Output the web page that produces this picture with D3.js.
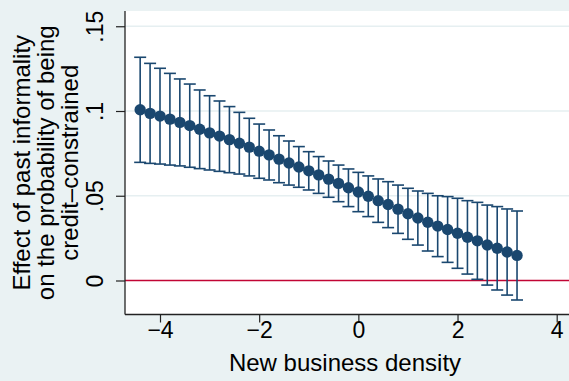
<!DOCTYPE html>
<html>
<head>
<meta charset="utf-8">
<script src="https://cdn.jsdelivr.net/npm/d3@7"></script>
<style>
  html, body { margin: 0; padding: 0; background: #eaf2f3; }
  svg { display: block; }
  text { font-family: "Liberation Sans", Arial, Helvetica, sans-serif; fill: #000; }
</style>
</head>
<body>
<svg id="chart" width="569" height="381"></svg>
<script>
// ---- data ----
const density = [-4.4,-4.2,-4.0,-3.8,-3.6,-3.4,-3.2,-3.0,-2.8,-2.6,-2.4,-2.2,-2.0,-1.8,-1.6,-1.4,-1.2,-1.0,-0.8,-0.6,
                 -0.4,-0.2,0.0,0.2,0.4,0.6,0.8,1.0,1.2,1.4,1.6,1.8,2.0,2.2,2.4,2.6,2.8,3.0,3.2];
const effect = [0.1007,0.0986,0.0970,0.0952,0.0933,0.0914,0.0892,0.0871,0.0852,0.0831,0.0810,0.0787,0.0763,0.0741,
                0.0716,0.0693,0.0670,0.0647,0.0623,0.0598,0.0573,0.0547,0.0522,0.0497,0.0471,0.0448,0.0421,0.0394,
                0.0369,0.0344,0.0321,0.0301,0.0279,0.0255,0.0234,0.0209,0.0190,0.0168,0.0148];
const upper = [0.1317,0.1281,0.1252,0.1222,0.1189,0.1159,0.1124,0.1090,0.1059,0.1026,0.0992,0.0957,0.0923,0.0888,
               0.0854,0.0823,0.0790,0.0760,0.0731,0.0705,0.0681,0.0658,0.0638,0.0617,0.0599,0.0583,0.0563,0.0544,
               0.0528,0.0514,0.0500,0.0495,0.0485,0.0471,0.0461,0.0445,0.0436,0.0422,0.0410];
const lower = [0.0697,0.0691,0.0687,0.0681,0.0676,0.0668,0.0660,0.0652,0.0644,0.0636,0.0628,0.0617,0.0603,0.0593,
               0.0577,0.0563,0.0550,0.0534,0.0514,0.0491,0.0465,0.0436,0.0406,0.0377,0.0343,0.0312,0.0278,0.0243,
               0.0209,0.0174,0.0141,0.0107,0.0072,0.0038,0.0007,-0.0027,-0.0056,-0.0086,-0.0115];
const xTicks = [-4, -2, 0, 2, 4];
const yTicks = [0, 0.05, 0.1, 0.15];
const yTickLabels = ["0", ".05", ".1", ".15"];
const xTitle = "New business density";
const yTitle = ["Effect of past informality", "on the probability of being", "credit\u2013constrained"];

const points = density.map((d, i) => ({x: d, y: effect[i], lo: lower[i], hi: upper[i]}));

// ---- layout ----
const svg = d3.select("#chart");
const W = 569, H = 381;
const plot = {left: 125, right: 569, top: 11, bottom: 314.5};
const navy = "#1a476f";

const x = d3.scaleLinear().domain([-4, 4]).range([160, 556.7]);
const y = d3.scaleLinear().domain([0, 0.15]).range([280.5, 26.25]);

svg.append("rect").attr("width", W).attr("height", H).attr("fill", "#eaf2f3");
svg.append("rect")
  .attr("x", plot.left).attr("y", plot.top)
  .attr("width", plot.right - plot.left).attr("height", plot.bottom - plot.top)
  .attr("fill", "#ffffff");

// gridlines
svg.append("g").selectAll("line").data(yTicks.filter(t => t > 0)).join("line")
  .attr("x1", plot.left).attr("x2", plot.right)
  .attr("y1", d => y(d)).attr("y2", d => y(d))
  .attr("stroke", "#e6eff1").attr("stroke-width", 1.5);

// zero reference line
svg.append("line")
  .attr("x1", plot.left).attr("x2", plot.right)
  .attr("y1", y(0)).attr("y2", y(0))
  .attr("stroke", "#c10534").attr("stroke-width", 1.6);

// error bars
const eb = svg.append("g").attr("stroke", navy).attr("stroke-width", 1.6).attr("fill", "none");
eb.selectAll("line.v").data(points).join("line").attr("class", "v")
  .attr("x1", d => x(d.x)).attr("x2", d => x(d.x))
  .attr("y1", d => y(d.lo)).attr("y2", d => y(d.hi));
eb.selectAll("line.ch").data(points).join("line").attr("class", "ch")
  .attr("x1", d => x(d.x) - 6).attr("x2", d => x(d.x) + 6)
  .attr("y1", d => y(d.hi)).attr("y2", d => y(d.hi));
eb.selectAll("line.cl").data(points).join("line").attr("class", "cl")
  .attr("x1", d => x(d.x) - 6).attr("x2", d => x(d.x) + 6)
  .attr("y1", d => y(d.lo)).attr("y2", d => y(d.lo));

// markers
svg.append("g").selectAll("circle").data(points).join("circle")
  .attr("cx", d => x(d.x)).attr("cy", d => y(d.y)).attr("r", 5.7)
  .attr("fill", navy);

// axes
const axisColor = "#222";
const yAxis = d3.axisLeft(y).tickValues(yTicks).tickSize(9).tickFormat((d, i) => yTickLabels[i]);
const gy = svg.append("g").attr("transform", `translate(${plot.left},0)`).call(yAxis);
gy.select(".domain").remove();
gy.selectAll(".tick line").attr("stroke", axisColor).attr("stroke-width", 1.2);
gy.selectAll(".tick text")
  .attr("x", null).attr("dy", null)
  .attr("transform", "translate(-22,0) rotate(-90)")
  .attr("text-anchor", "middle")
  .style("font-size", "23px");
svg.append("line")
  .attr("x1", plot.left).attr("x2", plot.left)
  .attr("y1", plot.top).attr("y2", plot.bottom)
  .attr("stroke", axisColor).attr("stroke-width", 1.3);

const xAxis = d3.axisBottom(x).tickValues(xTicks).tickSize(8)
  .tickFormat(d => d < 0 ? "\u2212" + Math.abs(d) : String(d));
const gx = svg.append("g").attr("transform", `translate(0,${plot.bottom})`).call(xAxis);
gx.select(".domain").remove();
gx.selectAll(".tick line").attr("stroke", axisColor).attr("stroke-width", 1.2);
gx.selectAll(".tick text")
  .attr("y", 23.5).attr("dy", null)
  .style("font-size", "23px");
svg.append("line")
  .attr("x1", plot.left).attr("x2", plot.right)
  .attr("y1", plot.bottom).attr("y2", plot.bottom)
  .attr("stroke", axisColor).attr("stroke-width", 1.3);

// titles
svg.append("text")
  .attr("x", (plot.left + plot.right) / 2 - 2).attr("y", 371)
  .attr("text-anchor", "middle").style("font-size", "24px")
  .text(xTitle);

const yc = (plot.top + plot.bottom) / 2;
const yt = svg.append("text")
  .attr("transform", `translate(30,${yc}) rotate(-90)`)
  .attr("text-anchor", "middle").style("font-size", "24px");
yTitle.forEach((line, i) => {
  yt.append("tspan").attr("x", 0).attr("y", i * 24).text(line);
});
</script>
</body>
</html>
